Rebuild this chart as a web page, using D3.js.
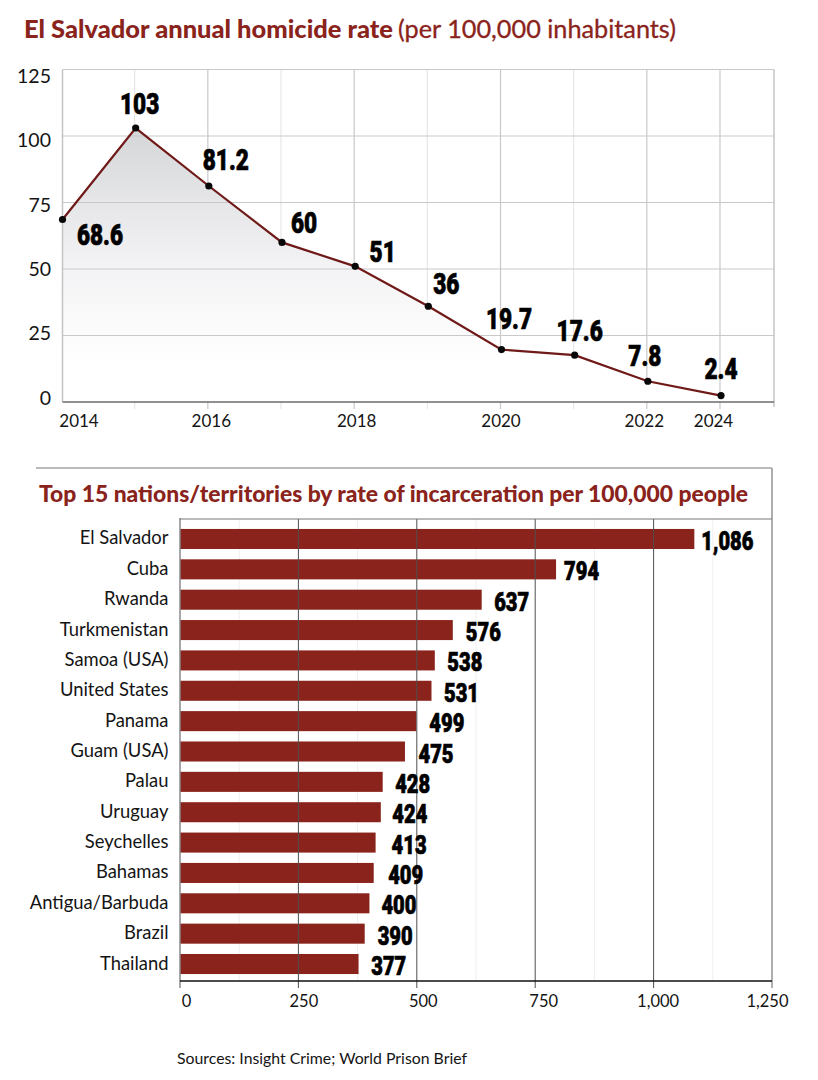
<!DOCTYPE html>
<html><head><meta charset="utf-8">
<script src="https://cdn.jsdelivr.net/npm/d3@7"></script>
<style>
html,body{margin:0;padding:0;background:#fff}
svg{display:block}
text{font-family:"Lato","Noto Sans",sans-serif}
.domain{display:none}
</style></head><body>
<svg id="c" width="818" height="1080"></svg>
<script>
const years=["2014","2015","2016","2017","2018","2019","2020","2021","2022","2024"];
const rates=[68.6,103,81.2,60,51,36,19.7,17.6,7.8,2.4];
const rateLabels=["68.6","103","81.2","60","51","36","19.7","17.6","7.8","2.4"];
const rateTicks=[0,25,50,75,100,125];
const yearTicks=["2014","2016","2018","2020","2022","2024"];
const countries=["El Salvador","Cuba","Rwanda","Turkmenistan","Samoa (USA)","United States","Panama","Guam (USA)","Palau","Uruguay","Seychelles","Bahamas","Antigua/Barbuda","Brazil","Thailand"];
const prison=[1086,794,637,576,538,531,499,475,428,424,413,409,400,390,377];
const prisonTicks=[0,250,500,750,1000,1250];
const prisonMinor=[125,375,625,875,1125];

// label placement relative to each point (dx, baseline dy)
const rateLabelOffset=[[37.5,25],[4,-14],[17,-16.5],[22,-9.5],[27.5,-4.5],[18,-12],[7.5,-20.5],[5,-14.5],[-3,-15.5],[0,-17]];
const barLabelGap=[7,8,12.5,13,12.5,12.5,13,13.5,12.5,11.5,16,14.5,12,13,12.7];
const yearLabelDx={"2014":16,"2016":2,"2018":1,"2020":-1,"2022":-4,"2024":-8};
const prisonLabelDx={0:6,250:5,500:6,750:8,1000:4,1250:-5};

const RED="#8a231b", DARK="#6f1a18";
const svg=d3.select("#c");
const defs=svg.append("defs");

/* ---------- titles ---------- */
function fit(sel,len){sel.attr("textLength",len).attr("lengthAdjust","spacingAndGlyphs");return sel;}
fit(svg.append("text").attr("x",24).attr("y",38).attr("font-size",25).attr("font-weight",900).attr("fill",RED)
  .text("El Salvador annual homicide rate"),369);
fit(svg.append("text").attr("x",398).attr("y",38).attr("font-size",25).attr("font-weight",400).attr("fill",RED)
  .attr("stroke",RED).attr("stroke-width",.3)
  .text("(per 100,000 inhabitants)"),278);

/* ---------- line chart ---------- */
const x=d3.scalePoint().domain(years).range([62.5,721]);
const y=d3.scaleLinear().domain([0,125]).range([402,69.5]);
const yLab=d3.scaleLinear().domain([0,125]).range([398,76]);
const L=62.5,R=774;

const g1=svg.append("g");
g1.append("g").selectAll("line").data(years.slice(1)).join("line")
  .attr("x1",d=>x(d)-1).attr("x2",d=>x(d)-1).attr("y1",y(125)).attr("y2",409)
  .attr("stroke",d=>yearTicks.includes(d)?"#c9c9cb":"#e7e7e9").attr("stroke-width",1.2);

const grad=defs.append("linearGradient").attr("id","ag").attr("gradientUnits","userSpaceOnUse")
  .attr("x1",0).attr("x2",0).attr("y1",y(103)).attr("y2",y(0));
grad.append("stop").attr("offset",0).attr("stop-color","#d5d6d8");
grad.append("stop").attr("offset",.5).attr("stop-color","#f3f3f5");
grad.append("stop").attr("offset",.85).attr("stop-color","#ffffff");
g1.append("path").datum(years).attr("fill","url(#ag)")
  .attr("d",d3.area().x(d=>x(d)).y0(y(0)).y1((d,i)=>y(rates[i])));

g1.append("g").selectAll("line").data(rateTicks.slice(1)).join("line")
  .attr("x1",L).attr("x2",R).attr("y1",d=>y(d)).attr("y2",d=>y(d))
  .attr("stroke","#c9c9cb").attr("stroke-width",1.2);
g1.append("line").attr("x1",L).attr("x2",L).attr("y1",y(125)).attr("y2",y(0)).attr("stroke","#c4c4c6").attr("stroke-width",1.5);
g1.append("line").attr("x1",R).attr("x2",R).attr("y1",y(125)).attr("y2",407).attr("stroke","#c4c4c6").attr("stroke-width",1.5);
g1.append("line").attr("x1",L).attr("x2",R).attr("y1",y(0)).attr("y2",y(0)).attr("stroke","#6b6b6d").attr("stroke-width",1.6);

g1.append("path").datum(years).attr("fill","none").attr("stroke",DARK).attr("stroke-width",2.2)
  .attr("d",d3.line().x(d=>x(d)).y((d,i)=>y(rates[i])));
g1.append("g").selectAll("circle").data(years).join("circle")
  .attr("cx",d=>x(d)).attr("cy",(d,i)=>y(rates[i])).attr("r",3.6).attr("fill","#080808");

g1.append("g").selectAll("text").data(rateTicks).join("text")
  .attr("x",51).attr("y",d=>yLab(d)+6.8).attr("text-anchor","end").attr("font-size",19.5).attr("fill","#141414")
  .text(d=>d);
g1.append("g").attr("transform","translate(0,402)")
  .call(d3.axisBottom(x).tickValues(yearTicks).tickSize(0).tickPadding(13))
  .call(s=>s.selectAll(".tick text").attr("dx",d=>yearLabelDx[d]).attr("font-size",17).attr("fill","#141414")
    .style("font-family",'"Lato",sans-serif'));

function heavy(sel,size){
  return sel.attr("font-size",size).attr("font-weight",900).attr("fill","#000")
    .style("font-family",'Roboto,"Lato",sans-serif').attr("stroke","#000").attr("stroke-width",.7);
}
heavy(g1.append("g").selectAll("text").data(years).join("text"),29)
  .attr("text-anchor","middle")
  .attr("transform",(d,i)=>`translate(${x(d)+rateLabelOffset[i][0]},${y(rates[i])+rateLabelOffset[i][1]}) scale(.78,1)`)
  .text((d,i)=>rateLabels[i]);

/* ---------- bar chart ---------- */
const bx=d3.scaleLinear().domain([0,1250]).range([180,772]);
const by=d3.scaleBand().domain(countries).range([523.8,979.2]).paddingInner(.34).paddingOuter(.17);
const BT=519,BB=981,FRAME=468;

svg.append("line").attr("x1",36).attr("x2",bx(1250)).attr("y1",FRAME).attr("y2",FRAME).attr("stroke","#77777a").attr("stroke-width",1);
fit(svg.append("text").attr("x",39).attr("y",502).attr("font-size",23).attr("font-weight",900).attr("fill",RED)
  .text("Top 15 nations/territories by rate of incarceration per 100,000 people"),709);

const g2=svg.append("g");
g2.append("g").selectAll("line").data(prisonMinor).join("line")
  .attr("x1",d=>bx(d)).attr("x2",d=>bx(d)).attr("y1",BT).attr("y2",BB).attr("stroke","#efeff0").attr("stroke-width",1);
g2.append("g").selectAll("rect").data(countries).join("rect")
  .attr("x",bx(0)).attr("y",d=>by(d)).attr("height",by.bandwidth())
  .attr("width",(d,i)=>bx(prison[i])-bx(0)).attr("fill",RED);
g2.append("g").selectAll("line").data(prisonTicks.slice(1,5)).join("line")
  .attr("x1",d=>bx(d)).attr("x2",d=>bx(d)).attr("y1",BT).attr("y2",988).attr("stroke","#4f4f51").attr("stroke-width",1);
g2.append("line").attr("x1",bx(1250)).attr("x2",bx(1250)).attr("y1",FRAME).attr("y2",988).attr("stroke","#9a9a9c").attr("stroke-width",1.6);
g2.append("line").attr("x1",bx(0)).attr("x2",bx(0)).attr("y1",BT-1).attr("y2",988).attr("stroke","#8a8a8c").attr("stroke-width",1.5);
g2.append("line").attr("x1",bx(0)).attr("x2",bx(1250)).attr("y1",BT).attr("y2",BT).attr("stroke","#77777a").attr("stroke-width",1);
g2.append("line").attr("x1",bx(0)).attr("x2",bx(1250)).attr("y1",BB).attr("y2",BB).attr("stroke","#111").attr("stroke-width",1.3);

g2.append("g").selectAll("text").data(countries).join("text")
  .attr("x",168.5).attr("y",d=>by(d)+by.bandwidth()/2+5.5).attr("text-anchor","end")
  .attr("font-size",18.4).attr("fill","#141414").text(d=>d);
heavy(g2.append("g").selectAll("text").data(countries).join("text"),25.5)
  .attr("transform",(d,i)=>`translate(${bx(prison[i])+barLabelGap[i]},${by(d)+by.bandwidth()/2+11}) scale(.79,1)`)
  .text((d,i)=>d3.format(",")(prison[i]));

g2.append("g").attr("transform",`translate(0,${BB})`)
  .call(d3.axisBottom(bx).tickValues(prisonTicks).tickSize(0).tickPadding(14).tickFormat(d3.format(",")))
  .call(s=>s.selectAll(".tick text").attr("font-size",16.5).attr("fill","#141414")
    .attr("dx",d=>prisonLabelDx[d]).style("font-family",'"Lato",sans-serif'));

fit(svg.append("text").attr("x",177).attr("y",1064).attr("font-size",16).attr("fill","#141414")
  .text("Sources: Insight Crime; World Prison Brief"),290);
</script>
</body></html>
